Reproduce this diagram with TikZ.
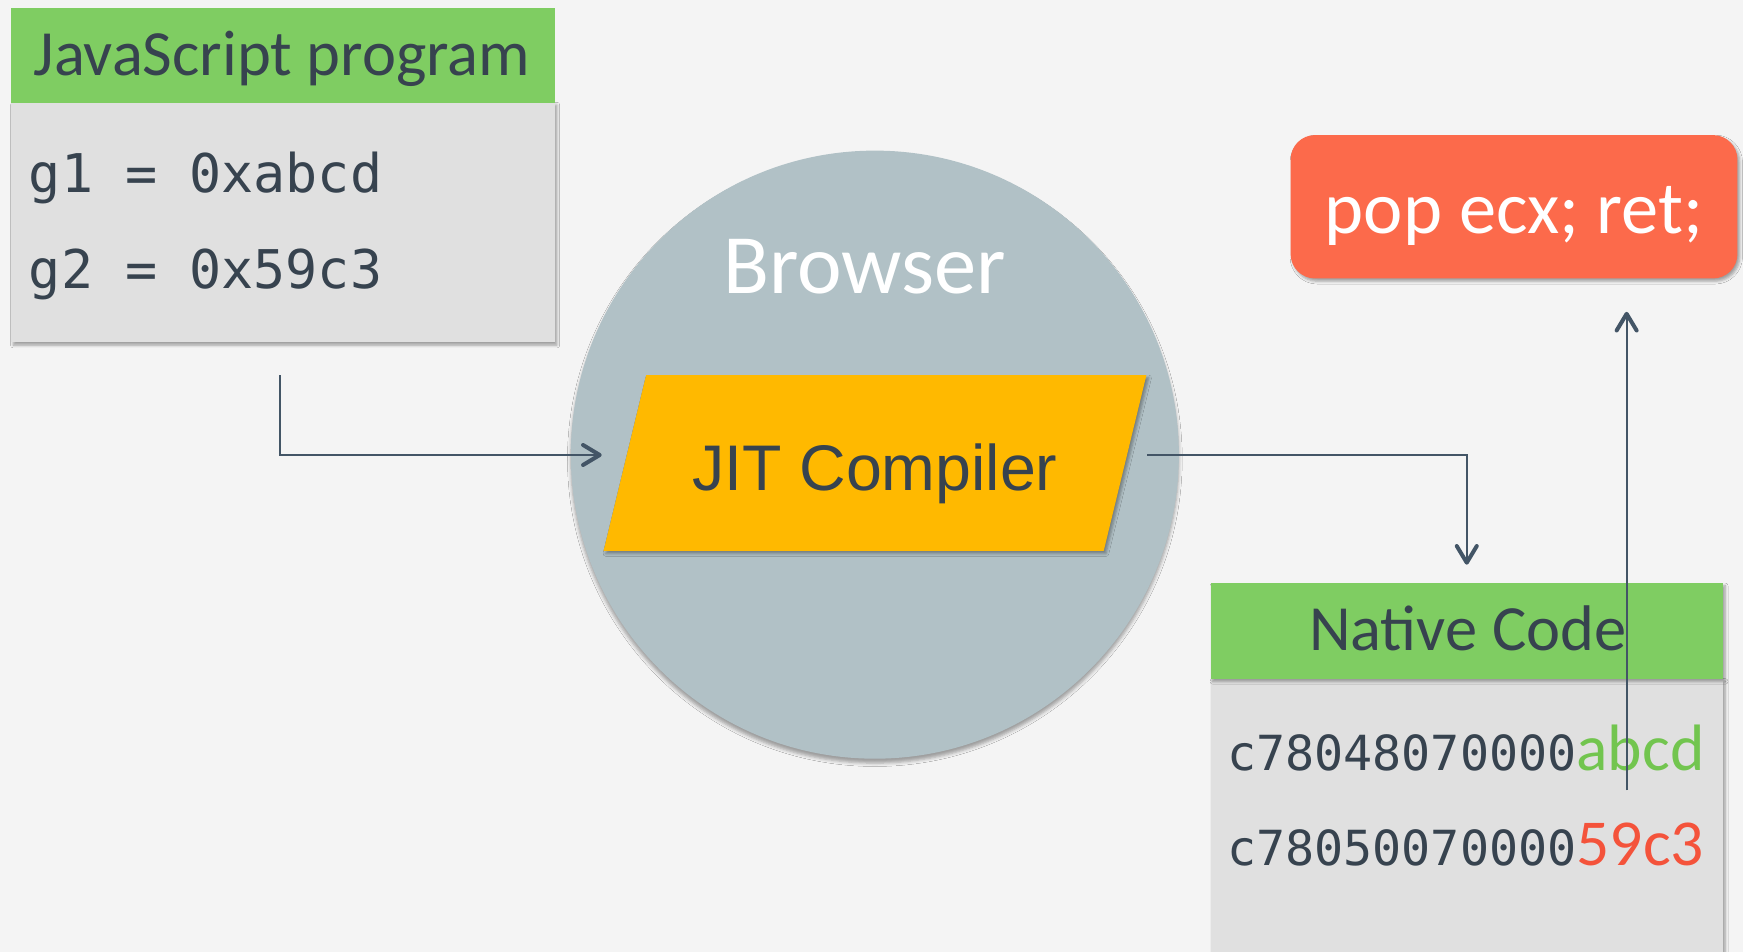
\documentclass[tikz,border=0pt]{standalone}
\usepackage{fontspec}
\setmainfont{Carlito}
\newfontfamily\codefont{DejaVu Sans Mono}
\newfontfamily\jitfont{Liberation Sans}
\usetikzlibrary{shadows.blur}

\definecolor{pagebg}{HTML}{F4F4F4}
\definecolor{headgreen}{HTML}{7FCD62}
\definecolor{panelgray}{HTML}{E0E0E0}
\definecolor{browsergray}{HTML}{B1C1C6}
\definecolor{amber}{HTML}{FFB900}
\definecolor{gadgetred}{HTML}{FC6A4B}
\definecolor{ink}{HTML}{37434F}
\definecolor{linkcol}{HTML}{435566}
\definecolor{hexgreen}{HTML}{72C54F}
\definecolor{hexred}{HTML}{F4533B}

\begin{document}
\begin{tikzpicture}[x=1pt, y=-1pt,
  every node/.style={inner sep=0pt, outer sep=0pt},
  softshadow/.style={blur shadow={shadow xshift=2pt, shadow yshift=-2.5pt,
      shadow blur radius=2.5pt, shadow opacity=35}},
  roundshadow/.style={blur shadow={shadow xshift=0pt, shadow yshift=-4pt,
      shadow blur radius=3pt, shadow opacity=35}},
  panel/.style={rectangle, fill=panelgray},
  headbar/.style={rectangle, fill=headgreen},
  titletext/.style={text=ink, font=\fontsize{58}{60}\selectfont},
  codetext/.style={text=ink, font=\codefont\fontsize{48}{50}\selectfont},
  conn/.style={draw=linkcol, line width=1.9pt},
  chevron/.style={draw=linkcol, line width=3.6pt, line cap=round, line join=round}
]
\useasboundingbox[fill=pagebg] (0,0) rectangle (1568,856);

% JavaScript source panel
\node[panel, minimum width=489pt, minimum height=216pt, softshadow] (jsbody) at (254.5,200) {};
\node[headbar, minimum width=489pt, minimum height=85.5pt] (jshead) at (254.5,49.75) {};
\node[titletext, anchor=base] (jstitle) at (253.5,68.2) {JavaScript program};
\node[codetext, anchor=base west] (g1) at (26,173.6) {g1 = 0xabcd};
\node[codetext, anchor=base west] (g2) at (26,259.3) {g2 = 0x59c3};

% Browser with its JIT compiler
\node[circle, fill=browsergray, minimum size=547pt, roundshadow] (browser) at (787,409) {};
\node[anchor=base, text=white, font=\fontsize{76}{78}\selectfont] (browsertitle) at (778,264) {Browser};
\fill[amber, softshadow] (543,495.5) -- (581.3,337.4) -- (1031.3,337.4) -- (992.9,495.5) -- cycle;
\node[anchor=base, text=ink, font=\jitfont\fontsize{58}{60}\selectfont] (jit) at (787,440.9) {JIT Compiler};

% Gadget
\node[rectangle, rounded corners=22pt, fill=gadgetred, minimum width=402pt, minimum height=129pt, softshadow] (gadget) at (1362,186) {};
\node[anchor=base, text=white, font=\fontsize{67}{69}\selectfont] (gadgettext) at (1362,210) {pop ecx; ret;};

% Native code panel
\node[panel, minimum width=461pt, minimum height=245.5pt, softshadow] (nbody) at (1319.5,733.25) {};
\node[headbar, minimum width=461pt, minimum height=86pt, softshadow] (nhead) at (1319.5,567.5) {};
\node[titletext, anchor=base] (ntitle) at (1320.3,585) {Native Code};
\node[text=ink, anchor=base west] (n1) at (1104,693)
  {{\codefont\fontsize{43.5}{45}\selectfont c78048070000}{\fontsize{59}{60}\selectfont\color{hexgreen}abcd}};
\node[text=ink, anchor=base west] (n2) at (1104,778.5)
  {{\codefont\fontsize{43.5}{45}\selectfont c78050070000}{\fontsize{59}{60}\selectfont\color{hexred}59c3}};

% Connectors, each ending in an open chevron head
\coordinate (jsout) at (252,337.4);
\coordinate (jitin) at (539.5,409.3);
\draw[conn] (jsout) |- (jitin);
\draw[chevron] ([shift={(-15,-9)}]jitin) -- (jitin) -- ([shift={(-15,9)}]jitin);

\coordinate (jitout) at (1032,409.4);
\coordinate (nin) at (1319.5,506.2);
\draw[conn] (jitout) -| (nin);
\draw[chevron] ([shift={(-9,-15)}]nin) -- (nin) -- ([shift={(9,-15)}]nin);

\coordinate (leak) at (1463.3,711);
\coordinate (gin) at (1463.3,282.3);
\draw[conn] (leak) -- (gin);
\draw[chevron] ([shift={(-9,15)}]gin) -- (gin) -- ([shift={(9,15)}]gin);
\end{tikzpicture}
\end{document}
